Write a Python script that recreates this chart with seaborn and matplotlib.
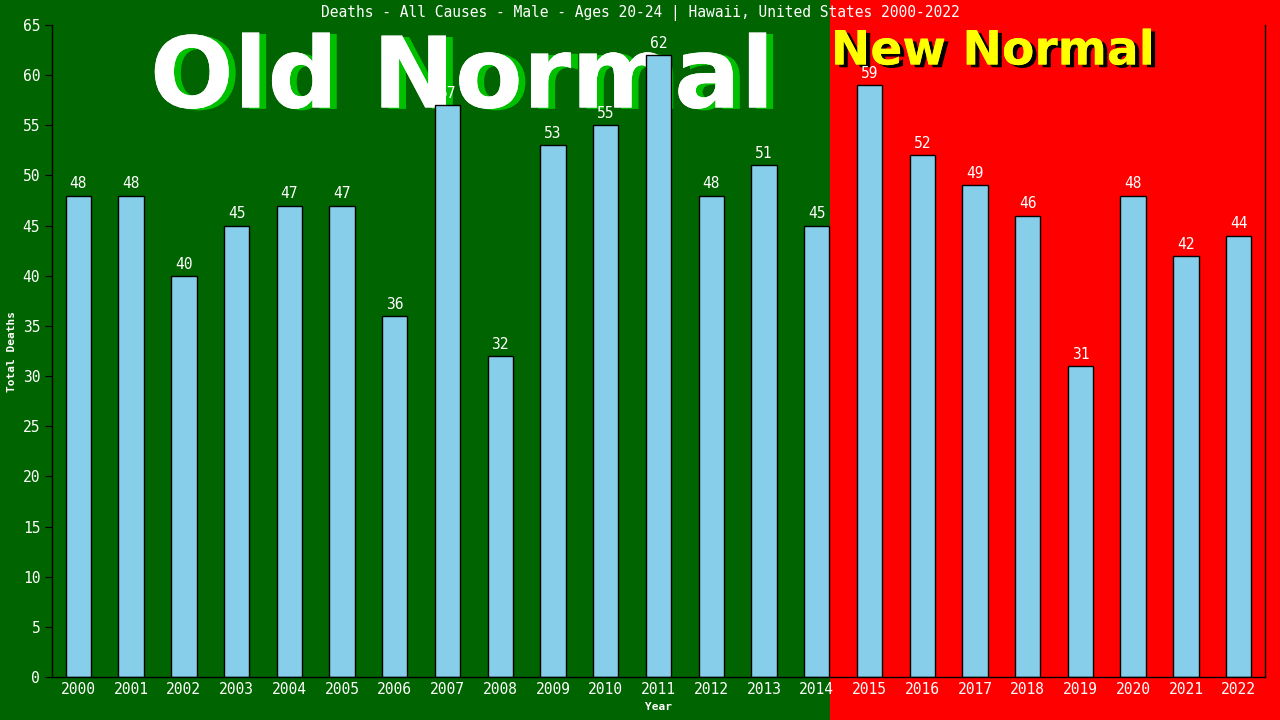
import matplotlib
matplotlib.use("Agg")
import matplotlib.pyplot as plt
import matplotlib.patheffects as pe
from matplotlib.patches import Rectangle
import seaborn as sns
import pandas as pd

years = [str(y) for y in range(2000, 2023)]
deaths = [48, 48, 40, 45, 47, 47, 36, 57, 32, 53, 55, 62, 48, 51, 45, 59, 52, 49, 46, 31, 48, 42, 44]
title = "Deaths - All Causes - Male - Ages 20-24 | Hawaii, United States 2000-2022"

df = pd.DataFrame({"Year": years, "Deaths": deaths})

sns.set_style("white")
plt.rcParams['font.family'] = ['DejaVu Sans Mono', 'DejaVu Sans']

GREEN = "#006400"
RED = "#ff0000"

fig = plt.figure(figsize=(12.8, 7.2), dpi=100, facecolor=GREEN)
fig.patches.append(Rectangle((830/1280, 0), 1 - 830/1280, 1, transform=fig.transFigure,
                             facecolor=RED, edgecolor="none", zorder=-2))
ax = fig.add_axes([52/1280, 43/720, (1265-52)/1280, (677-25)/720])
ax.set_facecolor("none")
ax.set_zorder(1)

sns.barplot(data=df, x="Year", y="Deaths", color="#87ceeb", edgecolor="black",
            linewidth=1.0, width=0.48, saturation=1, ax=ax)
ax.bar_label(ax.containers[0], labels=[str(v) for v in deaths], color="white",
             fontsize=10.5, padding=3)

ax.set_ylim(0, 65)
ax.set_yticks(range(0, 66, 5))
ax.set_xlim(-0.5, len(years) - 0.5)
for s in ["left", "bottom", "right"]:
    ax.spines[s].set_color("black")
    ax.spines[s].set_linewidth(1)
ax.spines["top"].set_visible(False)
ax.tick_params(axis="y", colors="black", labelcolor="white", length=5, direction="out", left=True, labelsize=10.5)
ax.tick_params(axis="x", colors="black", labelcolor="white", length=0, labelsize=10.5)
ax.set_xlabel("Year", color="white", fontsize=8, fontweight="bold")
ax.set_ylabel("Total Deaths", color="white", fontsize=8, fontweight="bold")

fig.text(640/1280, 1 - 13/720, title, color="white", fontsize=10.5, ha="center", va="center")

fig.text(462/1280, 1 - 80/720, "Old Normal", color="white", fontsize=71, fontweight="bold",
         family="DejaVu Sans", ha="center", va="center", zorder=-1,
         path_effects=[pe.withSimplePatchShadow(offset=(5, -1), shadow_rgbFace="#00c000", alpha=1),
                       pe.Normal()])
fig.text(993/1280, 1 - 52/720, "New Normal", color="yellow", fontsize=34, fontweight="bold",
         family="DejaVu Sans", ha="center", va="center", zorder=-1,
         path_effects=[pe.withSimplePatchShadow(offset=(3, -2), shadow_rgbFace="black", alpha=1),
                       pe.Normal()])

fig.savefig("out.png", dpi=100, facecolor=fig.get_facecolor())
